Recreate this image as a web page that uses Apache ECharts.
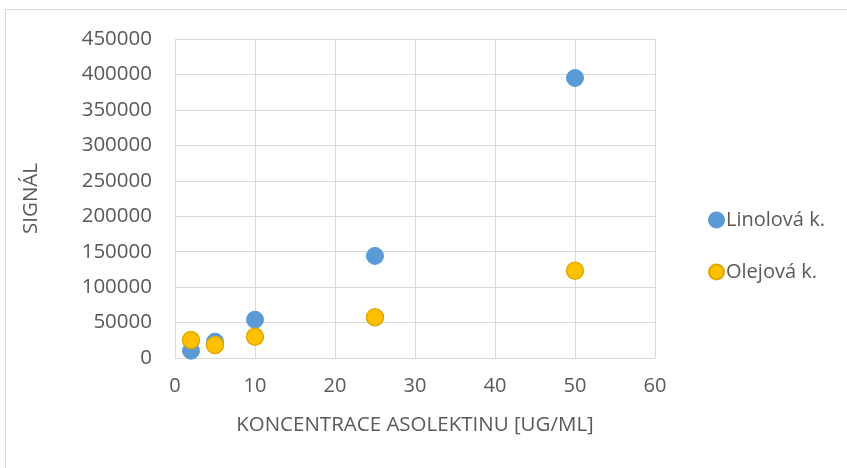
<!DOCTYPE html>
<html>
<head>
<meta charset="utf-8">
<script src="https://cdn.jsdelivr.net/npm/echarts@6/dist/echarts.min.js"></script>
<style>
  html, body { margin: 0; padding: 0; background: #fff; }
  #chart { width: 847px; height: 468px; }
</style>
</head>
<body>
<div id="chart"></div>
<script>
// Koncentrace asolektinu [ug/ml] a naměřený signál
const concentrations = [2, 5, 10, 25, 50];
const linolova = [10300, 23000, 54000, 144000, 395000];
const olejova = [25400, 18300, 30000, 57500, 123000];
const seriesNames = ['Linolová k.', 'Olejová k.'];

const FONT = '"Open Sans", sans-serif';
const TEXT = '#595959';
const GRID = '#d9d9d9';

const pairs = (xs, ys) => xs.map((x, i) => [x, ys[i]]);

const chart = echarts.init(document.getElementById('chart'), null, { renderer: 'canvas' });
chart.setOption({
  animation: false,
  backgroundColor: '#ffffff',
  textStyle: { fontFamily: FONT },
  graphic: [{
    type: 'rect',
    silent: true,
    shape: { x: 5.5, y: 9.5, width: 1000, height: 1000 },
    style: { fill: 'none', stroke: GRID, lineWidth: 1 }
  }],
  grid: { left: 175, right: 192, top: 39, bottom: 110 },
  legend: {
    orient: 'vertical',
    left: 703,
    top: 205,
    itemGap: 32,
    itemWidth: 15,
    itemHeight: 15,
    icon: 'circle',
    textStyle: { fontFamily: FONT, fontSize: 20, color: TEXT, padding: [0, 0, 0, -3] },
    data: seriesNames
  },
  xAxis: {
    type: 'value',
    min: 0, max: 60, interval: 10,
    name: 'KONCENTRACE ASOLEKTINU [UG/ML]',
    nameLocation: 'middle',
    nameGap: 57,
    nameTextStyle: { fontFamily: FONT, fontSize: 20.5, color: TEXT },
    axisLine: { show: true, lineStyle: { color: GRID, width: 1 } },
    axisTick: { show: false },
    axisLabel: { fontFamily: FONT, fontSize: 20, color: TEXT, margin: 18 },
    splitLine: { show: true, lineStyle: { color: GRID, width: 1 } }
  },
  yAxis: {
    type: 'value',
    min: 0, max: 450000, interval: 50000,
    name: 'SIGNÁL',
    nameLocation: 'middle',
    nameGap: 133,
    nameTextStyle: { fontFamily: FONT, fontSize: 20.5, color: TEXT },
    axisLine: { show: false },
    axisTick: { show: false },
    axisLabel: { fontFamily: FONT, fontSize: 20.5, color: TEXT, margin: 23, formatter: v => String(v) },
    splitLine: { show: true, lineStyle: { color: GRID, width: 1 } }
  },
  series: [
    {
      name: seriesNames[0],
      type: 'scatter',
      symbol: 'circle',
      symbolSize: 17,
      itemStyle: { color: '#5b9bd5', borderColor: '#5b9bd5', borderWidth: 1, opacity: 1 },
      data: pairs(concentrations, linolova),
      z: 2
    },
    {
      name: seriesNames[1],
      type: 'scatter',
      symbol: 'circle',
      symbolSize: 17,
      itemStyle: { color: '#ffc000', borderColor: '#e0a800', borderWidth: 1.5, opacity: 1 },
      data: pairs(concentrations, olejova),
      z: 3
    }
  ]
});
</script>
</body>
</html>
